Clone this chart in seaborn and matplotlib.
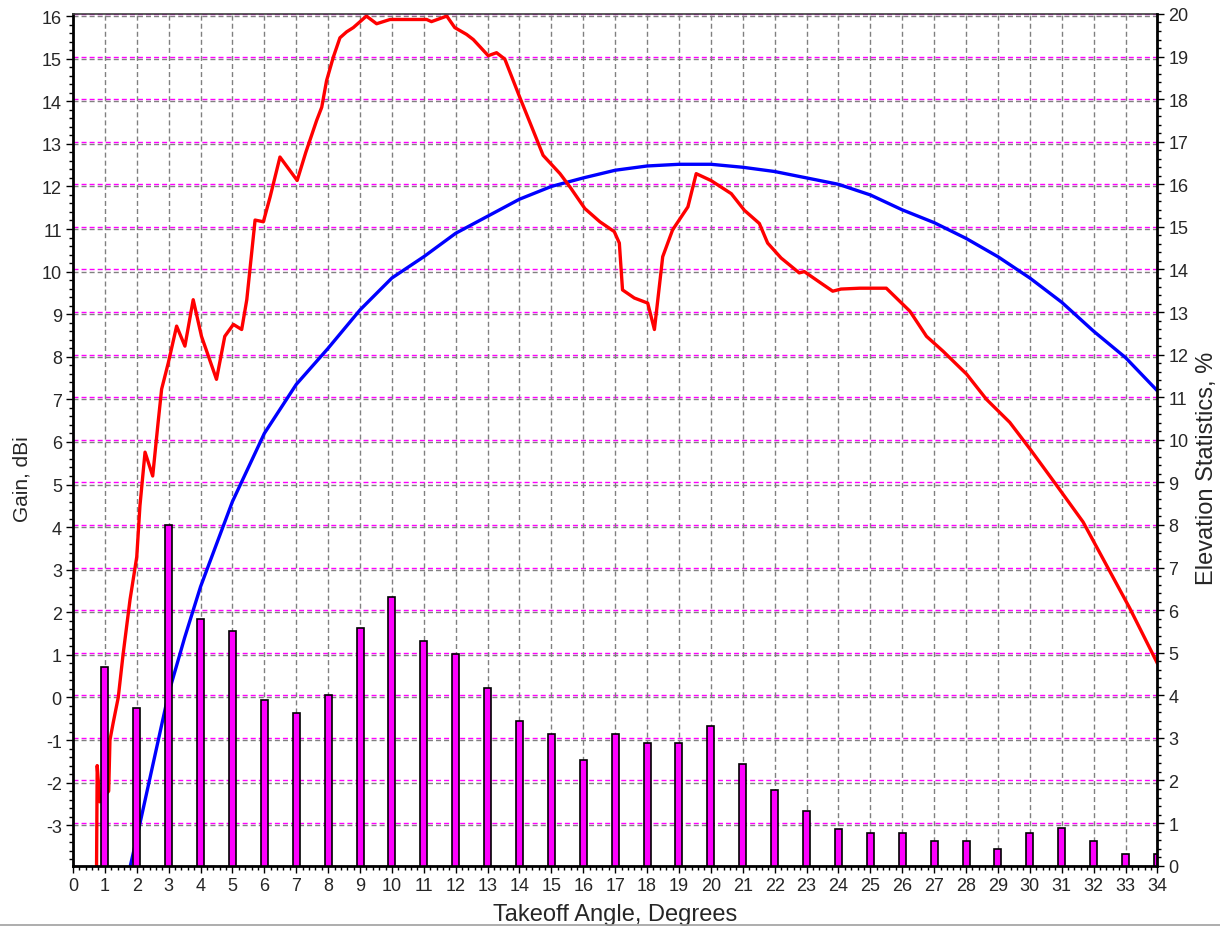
import matplotlib
matplotlib.use('Agg')
import matplotlib.pyplot as plt
import matplotlib.ticker as mticker
from matplotlib.lines import Line2D
import seaborn as sns

# elevation statistics bars (right axis, %)
angles = list(range(1, 35))
elev_pct = [4.67, 3.70, 8.00, 5.80, 5.51, 3.89, 3.59, 4.00, 5.59, 6.30, 5.28, 4.98,
            4.18, 3.40, 3.09, 2.49, 3.09, 2.87, 2.87, 3.28, 2.38, 1.77, 1.29, 0.87,
            0.77, 0.77, 0.57, 0.57, 0.39, 0.77, 0.88, 0.57, 0.27, 0.27]

# red gain curve (left axis, dBi)
red_x = [0.74, 0.76, 0.84, 1.0, 1.12, 1.16, 1.26, 1.42, 1.57, 1.79, 2.0, 2.1, 2.26, 2.5,
         2.67, 2.78, 2.99, 3.25, 3.51, 3.77, 4.03, 4.5, 4.76, 5.03, 5.29, 5.45, 5.71,
         5.97, 6.18, 6.49, 7.03, 7.3, 7.64, 7.8, 7.95, 8.16, 8.37, 8.58, 8.79, 9.2,
         9.52, 9.94, 11.09, 11.24, 11.72, 11.97, 12.34, 12.55, 13.02, 13.28, 13.54,
         14.01, 14.43, 14.74, 15.27, 15.58, 16.05, 16.52, 16.97, 17.13, 17.23, 17.6,
         18.02, 18.23, 18.49, 18.8, 19.28, 19.54, 20.0, 20.64, 21.05, 21.52, 21.78,
         22.2, 22.77, 22.93, 23.45, 23.82, 24.08, 24.67, 25.5, 26.24, 26.76, 27.28,
         28.02, 28.64, 29.37, 30.0, 30.84, 31.67, 32.4, 33.13, 34.0]
red_gain = [-3.95, -1.6, -2.45, -2.3, -2.2, -1.0, -0.6, 0.0, 1.0, 2.3, 3.3, 4.5, 5.76, 5.2,
            6.46, 7.24, 7.86, 8.72, 8.25, 9.34, 8.48, 7.47, 8.48, 8.76, 8.64, 9.34, 11.21,
            11.17, 11.75, 12.69, 12.14, 12.8, 13.55, 13.86, 14.48, 15.03, 15.49, 15.63,
            15.73, 16.0, 15.82, 15.92, 15.92, 15.87, 16.0, 15.73, 15.57, 15.45, 15.07,
            15.14, 14.99, 14.09, 13.31, 12.73, 12.30, 11.99, 11.48, 11.17, 10.94, 10.67,
            9.57, 9.38, 9.26, 8.64, 10.35, 10.98, 11.52, 12.30, 12.14, 11.83, 11.44,
            11.13, 10.67, 10.32, 9.97, 10.0, 9.73, 9.54, 9.59, 9.61, 9.61, 9.07, 8.48,
            8.13, 7.59, 7.0, 6.46, 5.84, 4.98, 4.12, 3.11, 2.10, 0.80]

# blue gain curve (left axis, dBi)
blue_x = [1.8, 2.0, 2.5, 3.0, 3.5, 4.0, 5.0, 6.0, 7.0, 8.0, 9.0, 10.0, 11.0, 12.0, 13.0,
          14.0, 15.0, 16.0, 17.0, 18.0, 19.0, 20.0, 21.0, 22.0, 23.0, 24.0, 25.0, 26.0,
          27.0, 28.0, 29.0, 30.0, 31.0, 32.0, 33.0, 34.0]
blue_gain = [-3.95, -3.3, -1.6, 0.1, 1.4, 2.6, 4.6, 6.2, 7.35, 8.2, 9.1, 9.85, 10.35, 10.9,
             11.3, 11.7, 12.0, 12.2, 12.38, 12.48, 12.52, 12.52, 12.45, 12.35, 12.2,
             12.05, 11.8, 11.45, 11.15, 10.78, 10.35, 9.85, 9.28, 8.6, 7.98, 7.2]

sns.set_style('white')
plt.rcParams['font.family'] = ['Liberation Sans', 'DejaVu Sans']
plt.rcParams['lines.scale_dashes'] = False
plt.rcParams['axes.unicode_minus'] = False

dash = (0, (3.6, 2.2))

fig = plt.figure(figsize=(12.2, 9.29), dpi=100, facecolor='white')
ax = fig.add_axes([0.0598, 0.0671, 0.8889, 0.9168])
axg = ax.twinx()   # magenta grid only
axb = ax.twinx()   # bars + right ticks

axg.set_zorder(0)
ax.set_zorder(1)
axb.set_zorder(2)
axg.patch.set_visible(True)
axg.patch.set_facecolor('white')
ax.patch.set_visible(False)
axb.patch.set_visible(False)

# lines on the gain axis
sns.lineplot(x=blue_x, y=blue_gain, ax=ax, color='#0000ff', lw=2.4,
             estimator=None, sort=False)
sns.lineplot(x=red_x, y=red_gain, ax=ax, color='#ff0000', lw=2.4,
             estimator=None, sort=False)

# bars on the statistics axis
sns.barplot(x=angles, y=elev_pct, ax=axb, native_scale=True, width=0.22,
            color='#ff00ff', saturation=1, edgecolor='black', linewidth=1.2,
            errorbar=None)

ax.set_xlim(0, 34)
ax.set_ylim(-3.95, 16.05)
for a in (axg, axb):
    a.set_ylim(0, 20)
    a.set_xlim(0, 34)

ax.xaxis.set_major_locator(mticker.MultipleLocator(1))
ax.xaxis.set_minor_locator(mticker.MultipleLocator(0.2))
ax.yaxis.set_major_locator(mticker.FixedLocator(range(-3, 17)))
ax.yaxis.set_minor_locator(mticker.MultipleLocator(0.2))
for a in (axg, axb):
    a.yaxis.set_major_locator(mticker.MultipleLocator(1))
    a.yaxis.set_minor_locator(mticker.MultipleLocator(0.2))

# grids
ax.grid(True, which='major', axis='both', color='#808080', lw=1.0, linestyle=dash)
axg.grid(True, which='major', axis='y', color='#ff00ff', lw=1.0, linestyle=dash)
axg.tick_params(axis='both', which='both', left=False, right=False, bottom=False,
                top=False, labelleft=False, labelright=False, labelbottom=False)
for s in axg.spines.values():
    s.set_visible(False)
axb.grid(False)

# spines
for s in ('left', 'bottom'):
    ax.spines[s].set_color('black')
    ax.spines[s].set_linewidth(2)
ax.spines['top'].set_color('#404040')
ax.spines['top'].set_linewidth(1.2)
ax.spines['right'].set_visible(False)
for s in ('left', 'top', 'bottom'):
    axb.spines[s].set_visible(False)
axb.spines['right'].set_color('black')
axb.spines['right'].set_linewidth(2)

ax.tick_params(axis='both', which='major', direction='out', length=5, width=1,
               color='black', labelsize=13, left=True, bottom=True, pad=3)
ax.tick_params(axis='both', which='minor', direction='out', length=3, width=1,
               color='black', left=True, bottom=True)
axb.tick_params(axis='y', which='major', direction='out', length=5, width=1,
                color='black', labelsize=13, right=True, pad=3)
axb.tick_params(axis='y', which='minor', direction='out', length=3, width=1,
                color='black', right=True)
axb.tick_params(axis='x', which='both', bottom=False, labelbottom=False)

ax.set_xlabel('Takeoff Angle, Degrees', fontsize=17)
ax.set_ylabel('Gain, dBi', fontsize=15)
axb.set_ylabel('Elevation Statistics, %', fontsize=17)
axb.set_xlabel('')
ax.yaxis.set_label_coords(-0.038, 0.455)
axb.yaxis.set_label_coords(1.036, 0.468)
ax.xaxis.set_label_coords(0.5, -0.044)

# window edge line at the bottom of the screenshot
fig.add_artist(Line2D([0, 1], [0.0027, 0.0027], transform=fig.transFigure,
                      color='#a0a0a0', lw=1.2))

fig.savefig('out.png', dpi=100, facecolor='white')
